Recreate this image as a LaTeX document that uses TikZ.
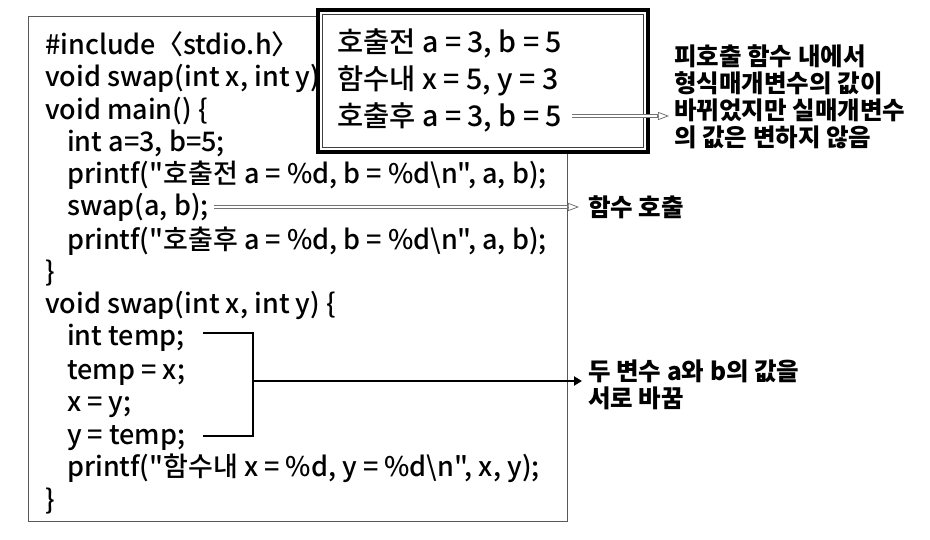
\documentclass[tikz,border=0pt]{standalone}
\usepackage{fontspec}
\setmainfont{Noto Sans CJK KR}[Ligatures=TeXOff]
\newfontfamily\codefont{Noto Sans CJK KR Medium}[Ligatures=TeXOff]
\usetikzlibrary{arrows.meta}
\begin{document}
\begin{tikzpicture}[x=1pt,y=-1pt,
  code/.style={anchor=west, inner sep=0pt, font=\codefont\fontsize{27}{27}\selectfont, text height=21pt, text depth=3pt},
  outtxt/.style={anchor=west, inner sep=0pt, font=\codefont\fontsize{28.5}{28.5}\selectfont, text height=22pt, text depth=3pt},
  note/.style={anchor=west, inner sep=0pt, font=\bfseries\fontsize{24.5}{27}\selectfont, align=left},
  dblshaft/.style={draw=black!55, line width=3.4pt, postaction={draw=white, line width=1.6pt, shorten >=1pt, shorten <=1pt}},
  openhead/.style={draw=black!60, line width=0.7pt, -{Triangle[open, length=11pt, width=8pt]}},
  bracketline/.style={draw=black, line width=2.6pt},
  mainarrow/.style={draw=black, line width=2.6pt, -{Triangle[length=8pt, width=9pt]}},
  mainbox/.style={draw=black!65, line width=1pt, fill=white},
]
\useasboundingbox (0,0) rectangle (930,540);
\fill[white] (0,0) rectangle (930,540);
% main code box
\draw[mainbox] (28,17) rectangle (567,521);
\node[code] (l1)  at (45,46)  {\#include〈stdio.h〉};
\node[code] (l2)  at (45,78)  {void swap(int x, int y);};
\node[code] (l3)  at (45,111) {void main() \{};
\node[code] (l4)  at (67,143) {int a=3, b=5;};
\node[code] (l5)  at (67,175) {printf("호출전 a = \%d, b = \%d\textbackslash n", a, b);};
\node[code] (l6)  at (67,207) {swap(a, b);};
\node[code] (l7)  at (67,241) {printf("호출후 a = \%d, b = \%d\textbackslash n", a, b);};
\node[code] (l8)  at (45,273) {\}};
\node[code] (l9)  at (45,305) {void swap(int x, int y) \{};
\node[code] (l10) at (67,337) {int temp;};
\node[code] (l11) at (67,370) {temp = x;};
\node[code] (l12) at (67,402) {x = y;};
\node[code] (l13) at (67,435) {y = temp;};
\node[code] (l14) at (67,467) {printf("함수내 x = \%d, y = \%d\textbackslash n", x, y);};
\node[code] (l15) at (45,500) {\}};
% right-side notes
\node[note] (call) at (588,207) {함수 호출};
\node[note] (swapnote) at (588,385) {두 변수 a와 b의 값을\\서로 바꿈};
\node[note] (valnote) at (674,97) {피호출 함수 내에서\\형식매개변수의 값이\\바뀌었지만 실매개변수\\의 값은 변하지 않음};
% swap call arrow
\coordinate (calltip) at ([xshift=-9pt]l6.east -| call.west);
\coordinate (callbase) at ([xshift=-20pt]l6.east -| call.west);
\draw[dblshaft, shorten <=5pt] (l6.east) -- (callbase);
\draw[openhead] (callbase) -- (calltip);
% bracket
\coordinate (bta) at (203,333);
\coordinate (btb) at (253,333);
\coordinate (bba) at (203,436);
\coordinate (bbb) at (253,436);
\coordinate (bmid) at (253,381);
\draw[bracketline, line join=miter] (bta) -- (btb) -- (bbb) -- (bba);
\draw[mainarrow] (bmid) -- ([xshift=-6pt]bmid -| swapnote.west);
% output box
\draw[draw=black, line width=4pt, fill=white] (318,10) rectangle (648,152);
\draw[draw=black!75, line width=1.1pt] (322.5,14.5) rectangle (643.5,147.5);
\node[outtxt] (o1) at (337,43)  {호출전 a = 3, b = 5};
\node[outtxt] (o2) at (337,80)  {함수내 x = 5, y = 3};
\node[outtxt] (o3) at (337,117) {호출후 a = 3, b = 5};
\coordinate (vtip) at (669,116);
\coordinate (vbase) at (658,116);
\draw[dblshaft, shorten <=10pt] (o3.east |- vbase) -- (vbase);
\draw[openhead] (vbase) -- (vtip);
\end{tikzpicture}
\end{document}
